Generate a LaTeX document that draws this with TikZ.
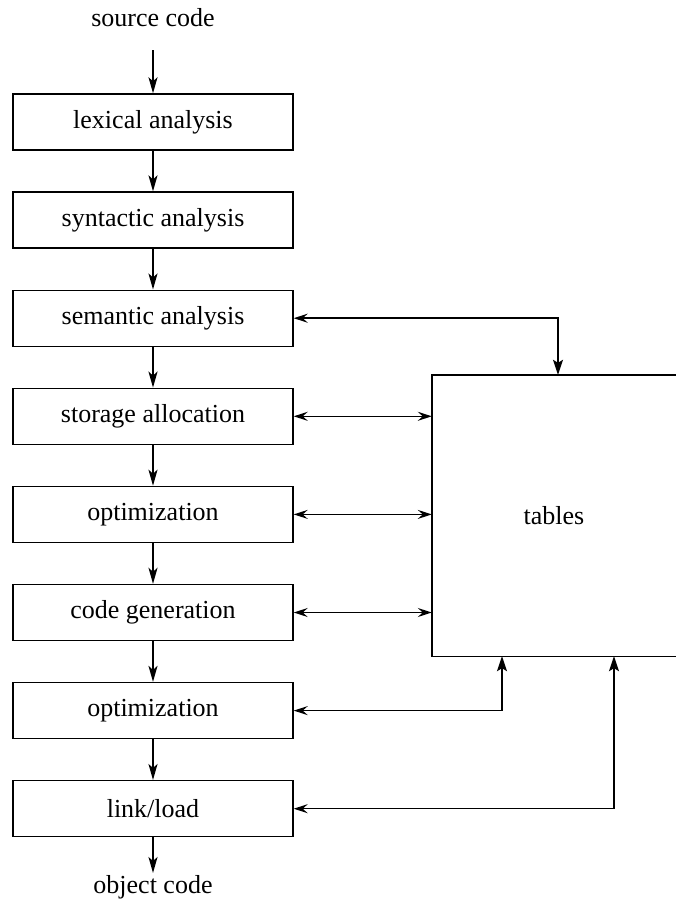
\documentclass[tikz,border=0pt]{standalone}
\usepackage{fontspec}
\setmainfont{Liberation Serif}
\usetikzlibrary{arrows.meta}

\tikzset{
  phase/.style={draw, line width=1.4pt, minimum width=280pt, minimum height=56pt,
    inner sep=0pt, font=\fontsize{26}{30}\selectfont},
  label/.style={inner sep=0pt, font=\fontsize{26}{30}\selectfont},
  flow/.style={line width=1.9pt, -{Stealth[length=16pt,width=9pt,inset=4pt]}},
  link/.style={line width=1.5pt,
    {Stealth[length=14pt,width=9pt,inset=5pt]}-{Stealth[length=14pt,width=9pt,inset=5pt]}},
  uplink/.style={line width=1.5pt,
    {Stealth[length=14pt,width=9pt,inset=5pt]}-{Stealth[length=15pt,width=10pt,inset=3pt]}}
}

\begin{document}
\begin{tikzpicture}[x=1pt,y=-1pt]
\useasboundingbox (0,0) rectangle (676,913);

% compiler phases
\node[label] (src) at (153,18) {source code};
\node[phase] (lex)  at (153,122.0) {lexical analysis};
\node[phase] (syn)  at (153,220.1) {syntactic analysis};
\node[phase] (sem)  at (153,318.2) {semantic analysis};
\node[phase] (sto)  at (153,416.3) {storage allocation};
\node[phase] (opt1) at (153,514.4) {optimization};
\node[phase] (gen)  at (153,612.5) {code generation};
\node[phase] (opt2) at (153,710.6) {optimization};
\node[phase] (lnk)  at (153,808.7) {link/load};
\node[label] (obj) at (153,887) {object code};

% symbol tables (right side runs off the page)
\node[minimum width=244pt, minimum height=281pt, inner sep=0pt,
      font=\fontsize{26}{30}\selectfont] (tables) at (554,515.5) {tables};
\draw[line width=1.4pt] (tables.north east) -- (tables.north west)
  -- (tables.south west) -- (tables.south east);

% main flow
\coordinate (srcend) at (153,50);
\draw[flow] (srcend) -- (lex.north);
\draw[flow] (lex) -- (syn);
\draw[flow] (syn) -- (sem);
\draw[flow] (sem) -- (sto);
\draw[flow] (sto) -- (opt1);
\draw[flow] (opt1) -- (gen);
\draw[flow] (gen) -- (opt2);
\draw[flow] (opt2) -- (lnk);
\coordinate (objend) at (153,873);
\draw[flow] (lnk.south) -- (objend);

% table accesses
\coordinate (tsem) at (tables.north west -| 558,0);
\coordinate (topt) at (tables.south west -| 502,0);
\coordinate (tlnk) at (tables.south west -| 614,0);
\draw[uplink] (sem.east) -| (tsem);
\draw[link] (sto.east) -- (sto.east -| tables.west);
\draw[link] (opt1.east) -- (opt1.east -| tables.west);
\draw[link] (gen.east) -- (gen.east -| tables.west);
\draw[uplink] (opt2.east) -| (topt);
\draw[uplink] (lnk.east) -| (tlnk);
\end{tikzpicture}
\end{document}
